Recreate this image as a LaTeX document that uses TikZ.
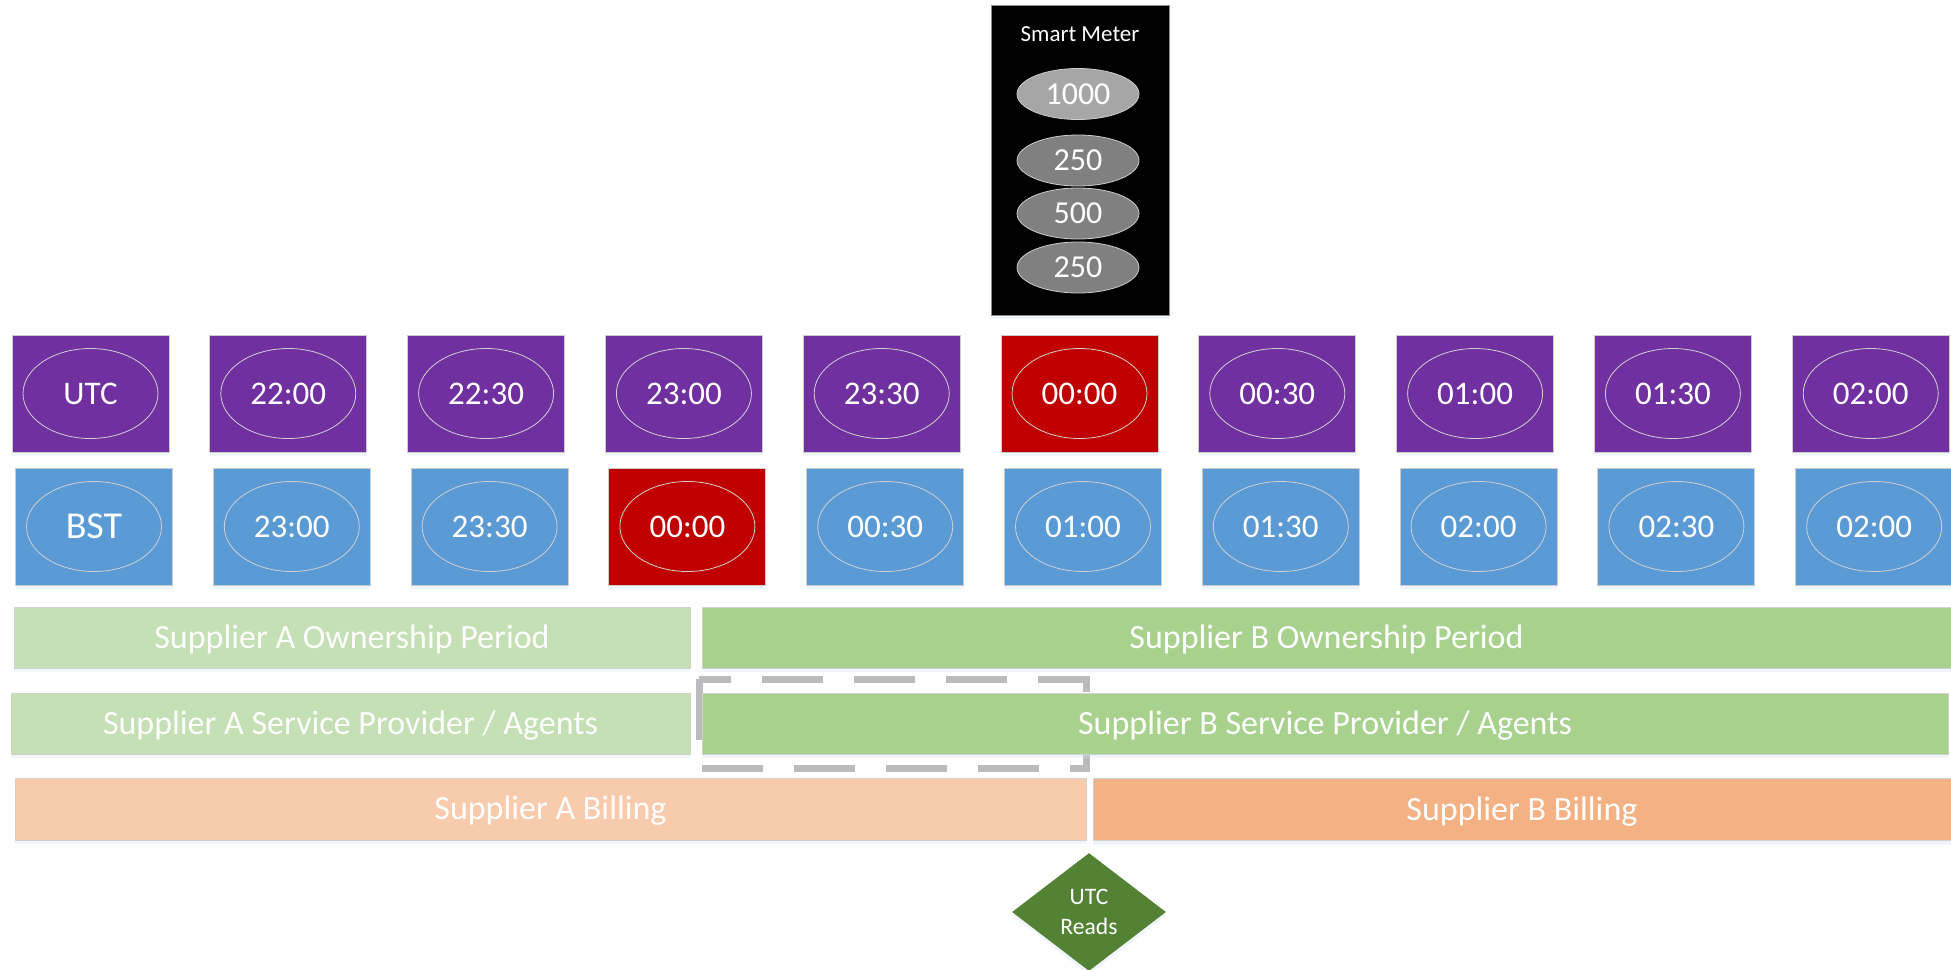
\documentclass[tikz,border=0pt]{standalone}
\usepackage{fontspec}
\setmainfont{Carlito}
\usetikzlibrary{shapes.geometric}
\usetikzlibrary{shadows}
\definecolor{utcpurple}{RGB}{112,48,160}
\definecolor{bstblue}{RGB}{91,155,213}
\definecolor{switchred}{RGB}{192,0,0}
\definecolor{greenA}{RGB}{197,224,180}
\definecolor{greenB}{RGB}{169,209,142}
\definecolor{orangeA}{RGB}{248,203,173}
\definecolor{orangeB}{RGB}{244,177,131}
\definecolor{readsgreen}{RGB}{84,130,53}
\definecolor{handoffgray}{RGB}{187,187,190}
\tikzset{
  glow/.style={drop shadow={shadow xshift=0pt, shadow yshift=-2pt, fill=bstblue!30, opacity=0.3}},
  slot/.style={rectangle, draw=black!20, line width=0.5pt, minimum width=78.5pt, minimum height=58.5pt, inner sep=0pt, glow},
  timeoval/.style={ellipse, draw=white!82!black, line width=0.4pt, minimum width=67.5pt, minimum height=45pt, inner sep=0pt, text=white, font=\fontsize{16.5}{18}\selectfont},
  bar/.style={rectangle, draw=black!18, line width=0.5pt, minimum height=30.5pt, inner sep=0pt, text=white, text height=10.7pt, text depth=0pt, font=\fontsize{17}{19}\selectfont, glow},
  register/.style={ellipse, draw=white!80!black, line width=0.4pt, minimum width=61pt, minimum height=25.5pt, inner sep=0pt, text=white, font=\fontsize{16}{18}\selectfont},
  handoff/.style={draw=handoffgray, line width=3.5pt, dash pattern=on 30.5pt off 15.5pt},
}

\begin{document}
\begin{tikzpicture}[x=0.5pt,y=-0.5pt]
\useasboundingbox (0,0) rectangle (1951,970);

% smart meter
\node[rectangle, fill=black, draw=black!45, line width=0.5pt, minimum width=89pt, minimum height=155pt, inner sep=0pt, glow] (meter) at (1080,160) {};
\node[text=white, font=\fontsize{11.5}{13}\selectfont] (metertitle) at (1080,34) {Smart Meter};
\node[register, fill=black!35] (reg0) at (1078,94) {1000};
\foreach \v/\y [count=\i] in {250/160.5, 500/213.5, 250/267.5}
  \node[register, fill=black!50] (reg\i) at (1078,\y) {\v};

% UTC row
\foreach \t/\c [count=\i from 0] in {UTC/utcpurple, 22:00/utcpurple, 22:30/utcpurple, 23:00/utcpurple, 23:30/utcpurple, 00:00/switchred, 00:30/utcpurple, 01:00/utcpurple, 01:30/utcpurple, 02:00/utcpurple}
{
  \node[slot, fill=\c] (utc\i) at (90.5+197.8*\i, 393.5) {};
  \node[timeoval] (utct\i) at (utc\i) {\t};
}

% BST row
\node[slot, fill=bstblue] (bst0) at (94,526.5) {};
\node[timeoval, font=\fontsize{19}{21}\selectfont] (bstt0) at (bst0) {BST};
\foreach \t/\c [count=\i from 1] in {23:00/bstblue, 23:30/bstblue, 00:00/switchred, 00:30/bstblue, 01:00/bstblue, 01:30/bstblue, 02:00/bstblue, 02:30/bstblue, 02:00/bstblue}
{
  \node[slot, fill=\c] (bst\i) at (94+197.8*\i, 526.5) {};
  \node[timeoval] (bstt\i) at (bst\i) {\t};
}

% suppliers
\node[bar, fill=greenA, minimum width=338pt] (ownA) at (352,637.5) {Supplier A Ownership Period};
\node[bar, fill=greenB, minimum width=624.5pt] (ownB) at (1326.5,637.5) {Supplier B Ownership Period};
\draw[handoff] (699,679) rectangle (1086,768);
\node[bar, fill=greenA, minimum width=339.5pt] (agentA) at (350.5,723.5) {Supplier A Service Provider / Agents};
\node[bar, fill=greenB, minimum width=623pt] (agentB) at (1325,723.5) {Supplier B Service Provider / Agents};
\node[bar, fill=orangeA, minimum width=535.5pt, minimum height=31pt] (billA) at (550.5,809) {Supplier A Billing};
\node[bar, fill=orangeB, minimum width=429pt, minimum height=31pt] (billB) at (1522,809.5) {Supplier B Billing};

\node[diamond, fill=readsgreen, minimum width=77pt, minimum height=59pt, inner sep=0pt, text=white, align=center, font=\fontsize{11.8}{15}\selectfont, glow] (reads) at (1089,912) {UTC\\Reads};
\end{tikzpicture}
\end{document}
